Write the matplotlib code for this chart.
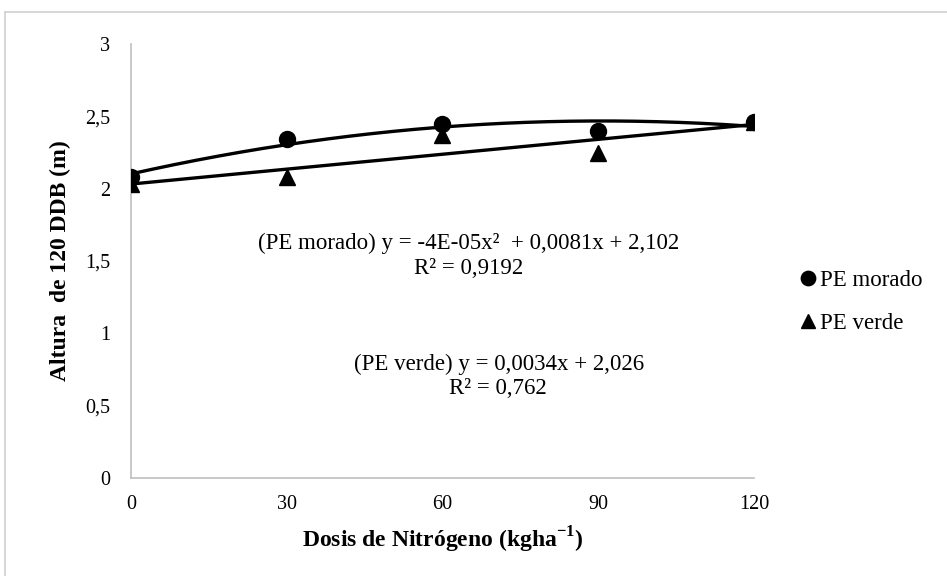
import matplotlib
matplotlib.use("Agg")
import matplotlib.pyplot as plt
import numpy as np

# data
dosis = [0, 30, 60, 90, 120]
pe_morado = [2.08, 2.34, 2.45, 2.40, 2.46]
pe_verde = [2.03, 2.08, 2.37, 2.25, 2.46]
y_ticks = [0, 0.5, 1, 1.5, 2, 2.5, 3]
y_tick_labels = ['0', '0,5', '1', '1,5', '2', '2,5', '3']

plt.rcParams['font.family'] = ['Liberation Serif', 'DejaVu Serif']
plt.rcParams['mathtext.fontset'] = 'custom'
plt.rcParams['mathtext.rm'] = 'Liberation Serif'
plt.rcParams['mathtext.bf'] = 'Liberation Serif:bold'

fig = plt.figure(figsize=(9.47, 5.76), dpi=100)
ax = fig.add_axes([0.1383, 0.1701, 0.6579, 0.7535])

# outer chart border (top and left visible)
fig.add_artist(plt.Line2D([5 / 947, 1], [1 - 12 / 576, 1 - 12 / 576], color='#d0d0d0', lw=1.2))
fig.add_artist(plt.Line2D([5 / 947, 5 / 947], [0, 1 - 12 / 576], color='#d0d0d0', lw=1.2))

# trend lines
xs = np.linspace(0, 120, 200)
c_m = np.polyfit(dosis, pe_morado, 2)
c_v = np.polyfit(dosis, pe_verde, 1)
ax.plot(xs, np.polyval(c_m, xs), color='black', lw=2.4, zorder=2)
ax.plot(xs, np.polyval(c_v, xs), color='black', lw=2.4, zorder=2)

# points
ax.plot(dosis, pe_verde, linestyle='none', marker='^', color='black', markersize=11, label='PE verde', zorder=3)
ax.plot(dosis, pe_morado, linestyle='none', marker='o', color='black', markersize=11.5, label='PE morado', zorder=4)

ax.set_xlim(0, 120)
ax.set_ylim(0, 3)
ax.set_xticks(dosis)
ax.set_yticks(y_ticks)
ax.set_yticklabels(y_tick_labels)
ax.tick_params(length=0, labelsize=14.5, pad=12)
ax.tick_params(axis='y', pad=15)
for s in ['top', 'right']:
    ax.spines[s].set_visible(False)
for s in ['left', 'bottom']:
    ax.spines[s].set_color('#bfbfbf')
    ax.spines[s].set_linewidth(1.2)
ax.spines['left'].set_zorder(1)

ax.set_xlabel(r'Dosis de Nitrógeno (kgha$^{\mathbf{-1}}$)', fontsize=17, fontweight='bold', labelpad=8)
ax.set_ylabel('Altura  de 120 DDB (m)', fontsize=17, fontweight='bold', labelpad=10)

# equations
fig.text(469 / 947, 1 - 243 / 576, '(PE morado) y = -4E-05x²  + 0,0081x + 2,102', ha='center', va='center', fontsize=16.5)
fig.text(469 / 947, 1 - 269 / 576, 'R² = 0,9192', ha='center', va='center', fontsize=16.5)
fig.text(499 / 947, 1 - 364 / 576, '(PE verde) y = 0,0034x + 2,026', ha='center', va='center', fontsize=16.5)
fig.text(498 / 947, 1 - 388 / 576, 'R² = 0,762', ha='center', va='center', fontsize=16.5)

handles, labels = ax.get_legend_handles_labels()
leg = fig.legend(handles[::-1], labels[::-1], loc='center left', bbox_to_anchor=(776 / 947, 1 - 302 / 576),
                 frameon=False, fontsize=16.5, handletextpad=0.0, handlelength=1.0, labelspacing=1.0,
                 markerscale=0.9)

fig.savefig('out.png', dpi=100)
